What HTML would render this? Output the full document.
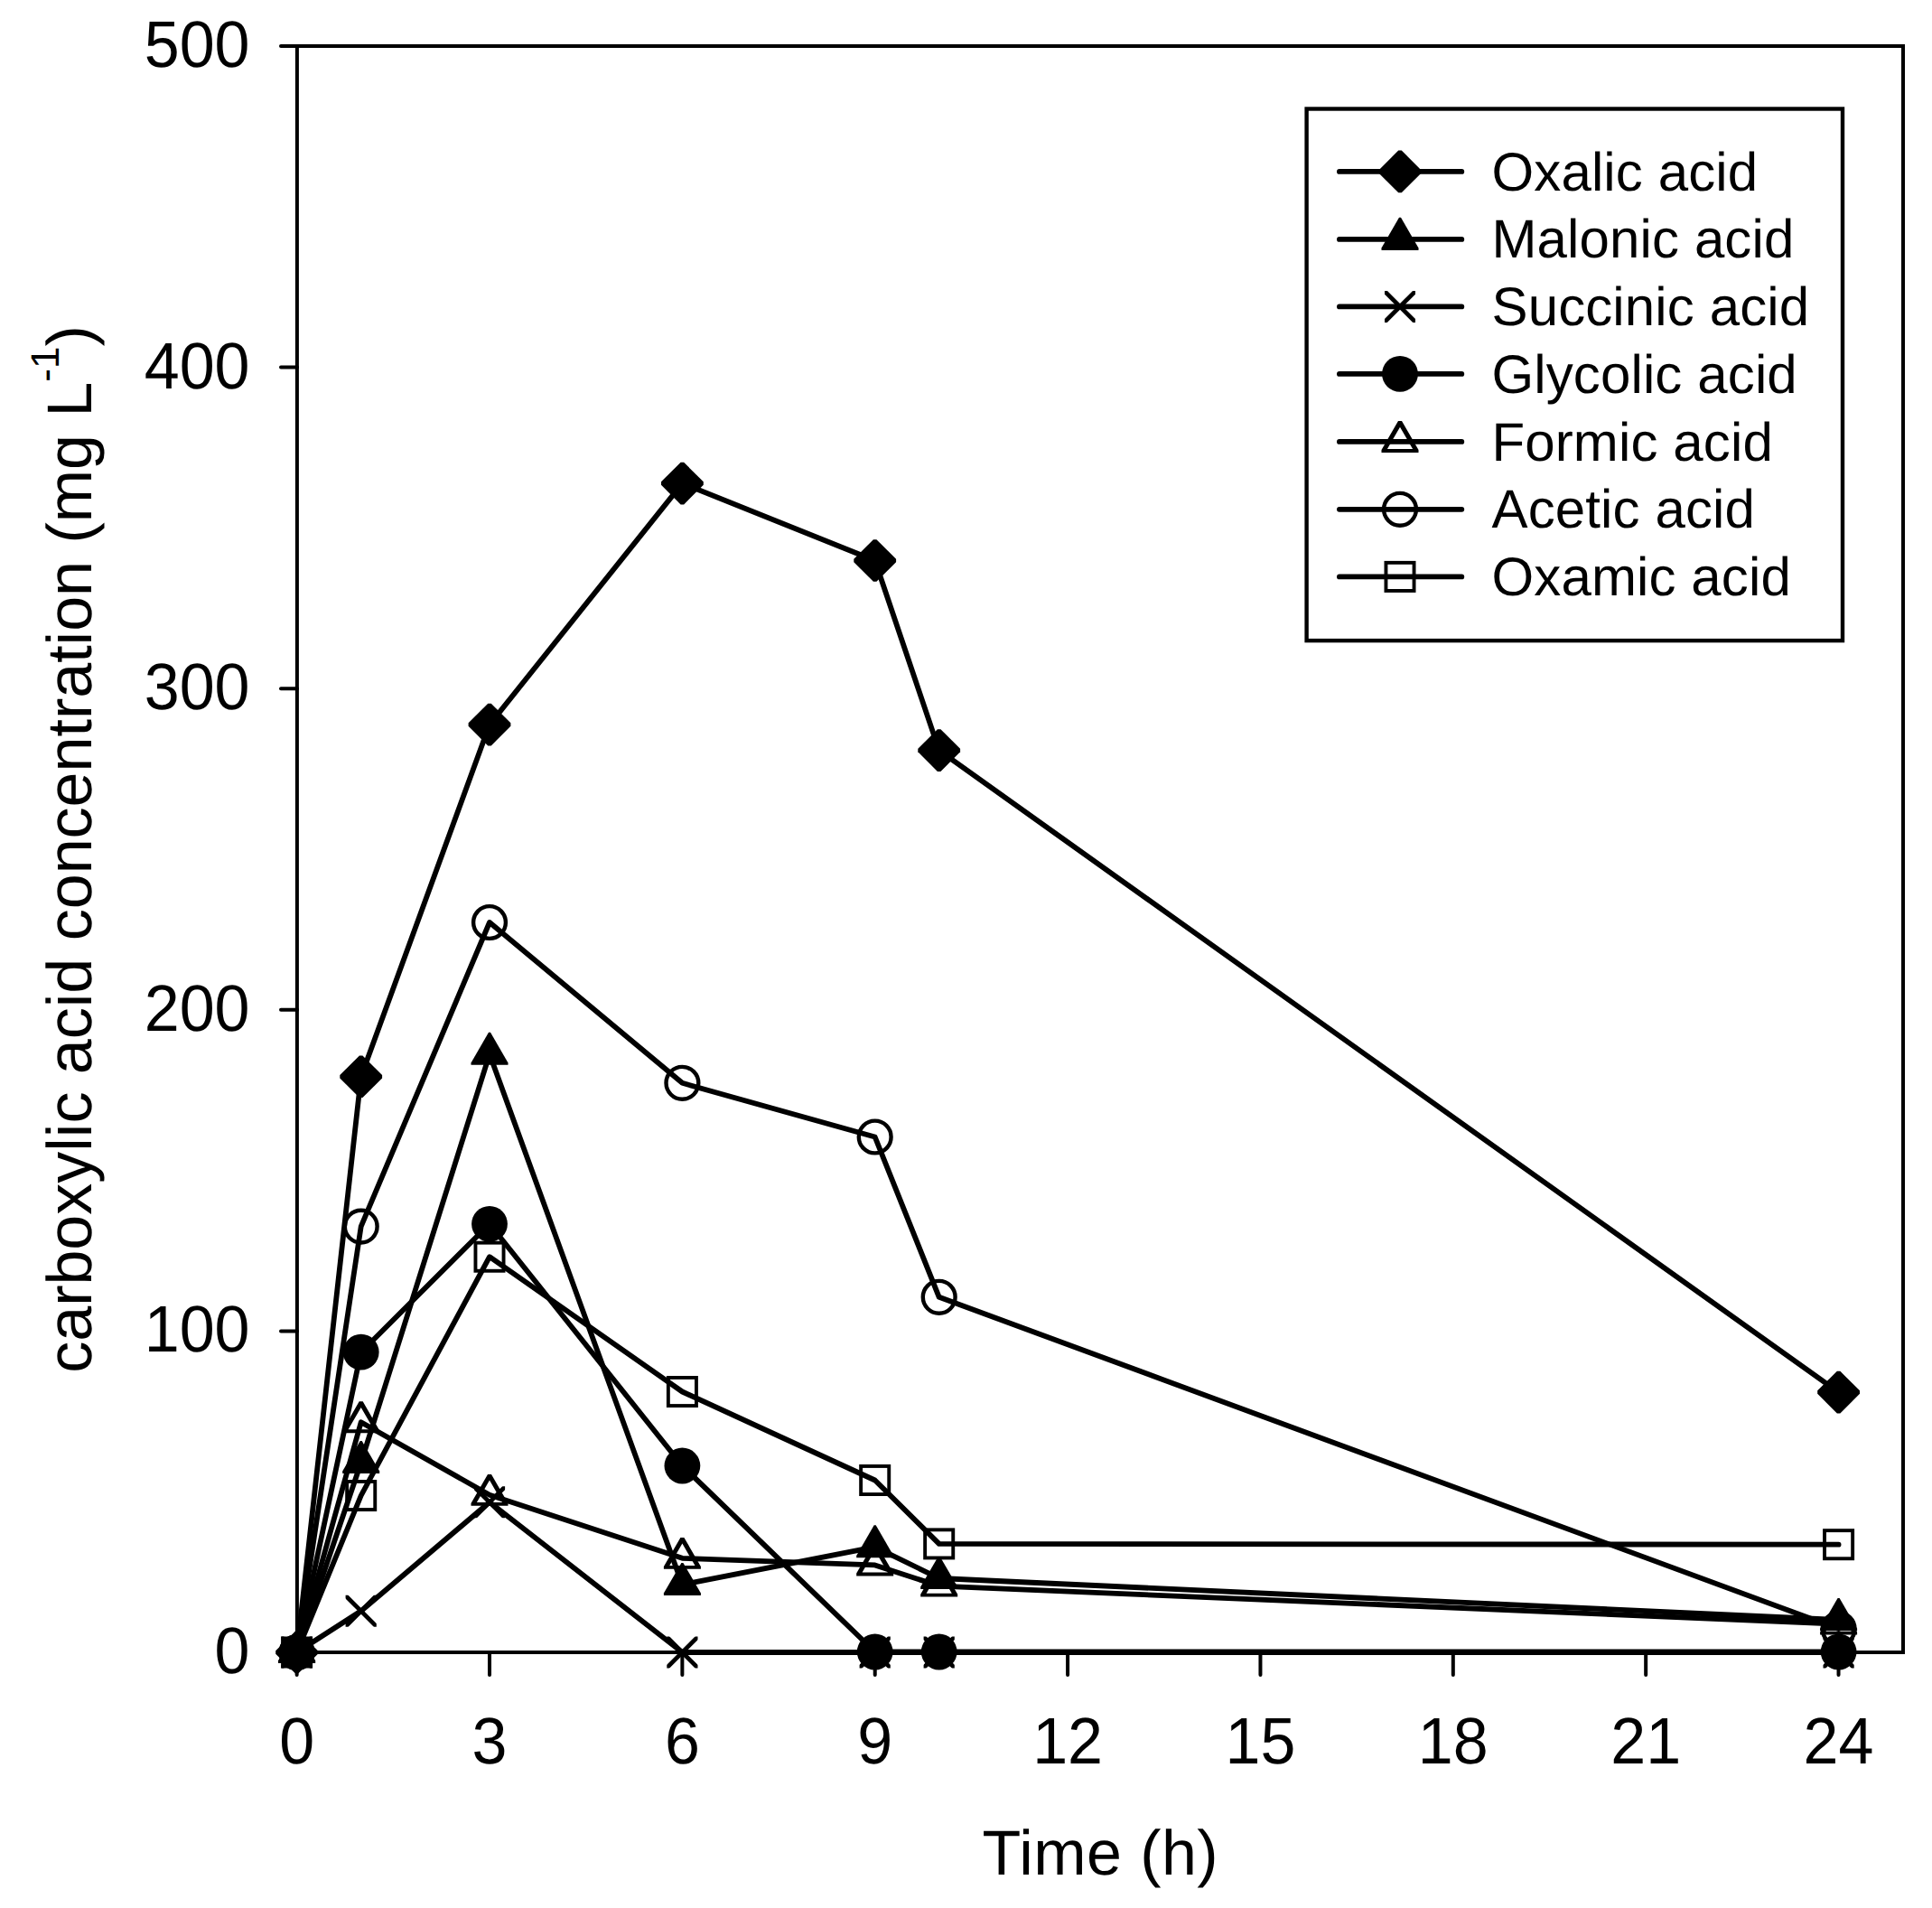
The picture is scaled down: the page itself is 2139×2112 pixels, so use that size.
<!DOCTYPE html>
<html lang="en">
<head>
<meta charset="utf-8">
<title>Carboxylic acid concentration vs time</title>
<style>
html,body{margin:0;padding:0;background:#fff;}
body{width:2139px;height:2112px;overflow:hidden;}
svg{display:block;}
text{font-family:"Liberation Sans",Arial,Helvetica,sans-serif;fill:#000;text-rendering:geometricPrecision;}
.tk{font-size:70px;}
.lg{font-size:60px;}
.ln{fill:none;stroke:#000;stroke-width:5.8;stroke-linejoin:round;stroke-linecap:round;}
.ax{fill:none;stroke:#000;stroke-width:4;stroke-linecap:round;stroke-linejoin:miter;}
.om{fill:none;stroke:#000;stroke-width:3.6;stroke-linejoin:miter;}
.fm{fill:#000;stroke:none;}
</style>
</head>
<body>
<svg width="2139" height="2112" viewBox="0 0 2139 2112">
<rect x="0" y="0" width="2139" height="2112" fill="#fff"/>
<defs>
<clipPath id="xc"><rect x="-17.1" y="-17.5" width="34.2" height="35"/></clipPath>
<polygon id="m-diamond" class="fm" points="-1.75,-23.3 1.75,-23.3 23.4,-1.75 23.4,1.75 1.75,23.3 -1.75,23.3 -23.4,1.75 -23.4,-1.75"/>
<polygon id="m-ftri" class="fm" points="-1,-24.1 1,-24.1 20.5,9.6 20.5,12 -20.5,12 -20.5,9.6"/>
<g id="m-x" clip-path="url(#xc)"><path d="M-24,-24 L24,24 M-24,24 L24,-24" fill="none" stroke="#000" stroke-width="4.8"/></g>
<circle id="m-fcirc" class="fm" cx="0" cy="0" r="19.9"/>
<path id="m-otri" class="fm" fill-rule="evenodd" d="M-2,-22.9 L2,-22.9 L20.5,9.2 L20.5,12 L-20.5,12 L-20.5,9.2 Z M0,-16.2 L14.1,8.1 L-14.1,8.1 Z"/>
<circle id="m-ocirc" cx="0" cy="0" r="17.9" fill="none" stroke="#000" stroke-width="4.4"/>
<rect id="m-osq" x="-15.55" y="-15.55" width="31.1" height="31.1" fill="none" stroke="#000" stroke-width="3.9"/>
</defs>
<g id="axes">
<rect class="ax" x="328.9" y="51" width="1778.1" height="1778"/>
<line class="ax" x1="311" y1="1829" x2="329" y2="1829"/>
<text class="tk" transform="translate(276.5,1851.9) scale(1,1.04)" text-anchor="end">0</text>
<line class="ax" x1="311" y1="1473.4" x2="329" y2="1473.4"/>
<text class="tk" transform="translate(276.5,1496.3) scale(1,1.04)" text-anchor="end">100</text>
<line class="ax" x1="311" y1="1117.8" x2="329" y2="1117.8"/>
<text class="tk" transform="translate(276.5,1140.7) scale(1,1.04)" text-anchor="end">200</text>
<line class="ax" x1="311" y1="762.2" x2="329" y2="762.2"/>
<text class="tk" transform="translate(276.5,785.1) scale(1,1.04)" text-anchor="end">300</text>
<line class="ax" x1="311" y1="406.6" x2="329" y2="406.6"/>
<text class="tk" transform="translate(276.5,429.5) scale(1,1.04)" text-anchor="end">400</text>
<line class="ax" x1="311" y1="51" x2="329" y2="51"/>
<text class="tk" transform="translate(276.5,73.9) scale(1,1.04)" text-anchor="end">500</text>
<line class="ax" x1="328.65" y1="1829" x2="328.65" y2="1854"/>
<text class="tk" transform="translate(328.65,1952) scale(1,1.04)" text-anchor="middle">0</text>
<line class="ax" x1="542.01" y1="1829" x2="542.01" y2="1854"/>
<text class="tk" transform="translate(542.01,1952) scale(1,1.04)" text-anchor="middle">3</text>
<line class="ax" x1="755.37" y1="1829" x2="755.37" y2="1854"/>
<text class="tk" transform="translate(755.37,1952) scale(1,1.04)" text-anchor="middle">6</text>
<line class="ax" x1="968.73" y1="1829" x2="968.73" y2="1854"/>
<text class="tk" transform="translate(968.73,1952) scale(1,1.04)" text-anchor="middle">9</text>
<line class="ax" x1="1182.09" y1="1829" x2="1182.09" y2="1854"/>
<text class="tk" transform="translate(1182.09,1952) scale(1,1.04)" text-anchor="middle">12</text>
<line class="ax" x1="1395.45" y1="1829" x2="1395.45" y2="1854"/>
<text class="tk" transform="translate(1395.45,1952) scale(1,1.04)" text-anchor="middle">15</text>
<line class="ax" x1="1608.81" y1="1829" x2="1608.81" y2="1854"/>
<text class="tk" transform="translate(1608.81,1952) scale(1,1.04)" text-anchor="middle">18</text>
<line class="ax" x1="1822.17" y1="1829" x2="1822.17" y2="1854"/>
<text class="tk" transform="translate(1822.17,1952) scale(1,1.04)" text-anchor="middle">21</text>
<line class="ax" x1="2035.53" y1="1829" x2="2035.53" y2="1854"/>
<text class="tk" transform="translate(2035.53,1952) scale(1,1.04)" text-anchor="middle">24</text>
</g>
<text class="tk" x="1218.3" y="2075" text-anchor="middle" letter-spacing="0.45">Time (h)</text>
<text class="tk" transform="translate(101,1519.8) rotate(-90)" x="0" y="0">carboxylic acid concentration (mg L<tspan font-size="44px" dy="-36.5">-1</tspan><tspan dy="36.5">)</tspan></text>
<g id="s-diamond">
<polyline class="ln" points="328.6,1829 399.7,1191.8 542,802.1 755.4,535.1 968.7,620.5 1039.7,830.6 2035.6,1541.1"/>
<use href="#m-diamond" x="328.6" y="1829"/>
<use href="#m-diamond" x="399.7" y="1191.8"/>
<use href="#m-diamond" x="542" y="802.1"/>
<use href="#m-diamond" x="755.4" y="535.1"/>
<use href="#m-diamond" x="968.7" y="620.5"/>
<use href="#m-diamond" x="1039.7" y="830.6"/>
<use href="#m-diamond" x="2035.6" y="1541.1"/>
</g>
<g id="s-ftri">
<polyline class="ln" points="328.6,1829 399.7,1619 542,1166.8 755.4,1754 968.7,1712.3 1039.7,1747 2035.6,1793.1"/>
<use href="#m-ftri" x="328.6" y="1829"/>
<use href="#m-ftri" x="399.7" y="1619"/>
<use href="#m-ftri" x="542" y="1166.8"/>
<use href="#m-ftri" x="755.4" y="1754"/>
<use href="#m-ftri" x="968.7" y="1712.3"/>
<use href="#m-ftri" x="1039.7" y="1747"/>
<use href="#m-ftri" x="2035.6" y="1793.1"/>
</g>
<g id="s-x">
<polyline class="ln" points="328.6,1829 399.7,1783.3 542,1662.8 755.4,1829 968.7,1829 1039.7,1829 2035.6,1829"/>
<use href="#m-x" x="328.6" y="1829"/>
<use href="#m-x" x="399.7" y="1783.3"/>
<use href="#m-x" x="542" y="1662.8"/>
<use href="#m-x" x="755.4" y="1829"/>
<use href="#m-x" x="968.7" y="1829"/>
<use href="#m-x" x="1039.7" y="1829"/>
<use href="#m-x" x="2035.6" y="1829"/>
</g>
<g id="s-fcirc">
<polyline class="ln" points="328.6,1829 399.7,1496.7 542,1354.8 755.4,1622.5 968.7,1828.5 1039.7,1828.5 2035.6,1828.5"/>
<use href="#m-fcirc" x="328.6" y="1829"/>
<use href="#m-fcirc" x="399.7" y="1496.7"/>
<use href="#m-fcirc" x="542" y="1354.8"/>
<use href="#m-fcirc" x="755.4" y="1622.5"/>
<use href="#m-fcirc" x="968.7" y="1828.5"/>
<use href="#m-fcirc" x="1039.7" y="1828.5"/>
<use href="#m-fcirc" x="2035.6" y="1828.5"/>
</g>
<g id="s-otri">
<polyline class="ln" points="328.6,1829 399.7,1574.2 542,1654.8 755.4,1724.8 968.7,1732.4 1039.7,1755.6 2035.6,1797.6"/>
<use href="#m-otri" x="328.6" y="1829"/>
<use href="#m-otri" x="399.7" y="1574.2"/>
<use href="#m-otri" x="542" y="1654.8"/>
<use href="#m-otri" x="755.4" y="1724.8"/>
<use href="#m-otri" x="968.7" y="1732.4"/>
<use href="#m-otri" x="1039.7" y="1755.6"/>
<use href="#m-otri" x="2035.6" y="1797.6"/>
</g>
<g id="s-ocirc">
<polyline class="ln" points="328.6,1829 399.7,1357.6 542,1021 755.4,1198.8 968.7,1258.5 1039.7,1435.8 2035.6,1803"/>
<use href="#m-ocirc" x="328.6" y="1829"/>
<use href="#m-ocirc" x="399.7" y="1357.6"/>
<use href="#m-ocirc" x="542" y="1021"/>
<use href="#m-ocirc" x="755.4" y="1198.8"/>
<use href="#m-ocirc" x="968.7" y="1258.5"/>
<use href="#m-ocirc" x="1039.7" y="1435.8"/>
<use href="#m-ocirc" x="2035.6" y="1803"/>
</g>
<g id="s-osq">
<polyline class="ln" points="328.6,1829 399.7,1655.5 542,1391.2 755.4,1540.5 968.7,1638.5 1039.7,1708.9 2035.6,1709.7"/>
<use href="#m-osq" x="328.6" y="1829"/>
<use href="#m-osq" x="399.7" y="1655.5"/>
<use href="#m-osq" x="542" y="1391.2"/>
<use href="#m-osq" x="755.4" y="1540.5"/>
<use href="#m-osq" x="968.7" y="1638.5"/>
<use href="#m-osq" x="1039.7" y="1708.9"/>
<use href="#m-osq" x="2035.6" y="1709.7"/>
</g>
<g id="legend">
<rect x="1446.6" y="120.5" width="593.4" height="588.6" fill="none" stroke="#000" stroke-width="4.4"/>
<line class="ln" x1="1482.9" y1="189.9" x2="1618.3" y2="189.9"/>
<use href="#m-diamond" x="1550" y="189.9"/>
<text class="lg" x="1651.5" y="210.7" letter-spacing="0.12">Oxalic acid</text>
<line class="ln" x1="1482.9" y1="264.9" x2="1618.3" y2="264.9"/>
<use href="#m-ftri" x="1550" y="264.9"/>
<text class="lg" x="1651.5" y="285.45" letter-spacing="0.12">Malonic acid</text>
<line class="ln" x1="1482.9" y1="339.4" x2="1618.3" y2="339.4"/>
<use href="#m-x" x="1550" y="339.4"/>
<text class="lg" x="1651.5" y="360.2" letter-spacing="0.12">Succinic acid</text>
<line class="ln" x1="1482.9" y1="413.9" x2="1618.3" y2="413.9"/>
<use href="#m-fcirc" x="1550" y="413.9"/>
<text class="lg" x="1651.5" y="434.95" letter-spacing="0.12">Glycolic acid</text>
<line class="ln" x1="1482.9" y1="488.9" x2="1618.3" y2="488.9"/>
<use href="#m-otri" x="1550" y="488.9"/>
<text class="lg" x="1651.5" y="509.7" letter-spacing="0.12">Formic acid</text>
<line class="ln" x1="1482.9" y1="563.8" x2="1618.3" y2="563.8"/>
<use href="#m-ocirc" x="1550" y="563.8"/>
<text class="lg" x="1651.5" y="584.45" letter-spacing="0.12">Acetic acid</text>
<line class="ln" x1="1482.9" y1="638.4" x2="1618.3" y2="638.4"/>
<use href="#m-osq" x="1550" y="638.4"/>
<text class="lg" x="1651.5" y="659.2" letter-spacing="0.12">Oxamic acid</text>
</g>
</svg>
</body>
</html>
